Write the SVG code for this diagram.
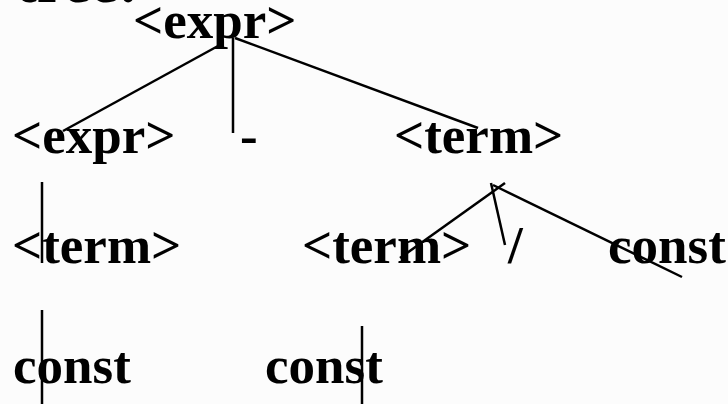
<svg xmlns="http://www.w3.org/2000/svg" width="728" height="404" viewBox="0 0 728 404">
<style>
text{font-family:"Liberation Serif","Times New Roman",serif;font-weight:bold;font-size:53px;fill:#000}
.e{stroke:#000;stroke-width:2.5;fill:none}
</style>
<rect width="728" height="404" fill="#fcfcfc"/>
<text x="16" y="2" style="font-size:62px">tree:</text>
<g id="n-expr-root"><text x="133" y="38">&lt;expr&gt;</text></g>
<g id="n-expr-left"><text x="12" y="153">&lt;expr&gt;</text></g>
<g id="n-minus"><text x="240" y="153">-</text></g>
<g id="n-term-right"><text x="394" y="153">&lt;term&gt;</text></g>
<g id="n-term-left"><text x="12" y="263">&lt;term&gt;</text></g>
<g id="n-term-mid"><text x="302" y="263">&lt;term&gt;</text></g>
<g id="n-slash"><text x="508" y="263">/</text></g>
<g id="n-const-right"><text x="608" y="263">const</text></g>
<g id="n-const-left"><text x="13" y="383">const</text></g>
<g id="n-const-mid"><text x="265" y="383">const</text></g>
<g id="connectors">
<line class="e" x1="218" y1="46" x2="63" y2="131"/>
<line class="e" x1="233" y1="38" x2="233" y2="133"/>
<line class="e" x1="235" y1="38" x2="478" y2="128"/>
<line class="e" x1="42" y1="182" x2="42" y2="263"/>
<line class="e" x1="400" y1="258" x2="505" y2="183"/>
<line class="e" x1="491" y1="183" x2="505" y2="245"/>
<line class="e" x1="493" y1="185" x2="682" y2="277"/>
<line class="e" x1="42" y1="310" x2="42" y2="404"/>
<line class="e" x1="362" y1="326" x2="362" y2="404"/>
</g>
</svg>
